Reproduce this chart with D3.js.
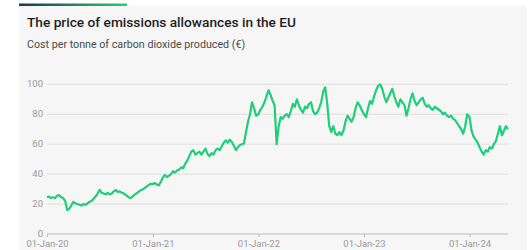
<!DOCTYPE html>
<html><head><meta charset="utf-8">
<script src="https://cdn.jsdelivr.net/npm/d3@7"></script>
<style>
html,body{margin:0;padding:0;background:#fff;}
svg{display:block;}
</style></head>
<body><svg id="c" width="529" height="250"></svg>
<script>
// Weekly EU ETS allowance prices (€ per tonne)
const prices2020 = [24.5,25,24,24.5, 24,25.5,26,24.5, 24,22,16,17, 19,21.5,20.5,20, 19.5,19,20,19.5, 20.5,21.5,22,23.5, 25,27,29.5,27.5, 27,26.5,27.5,26.5, 27,28.5,29.5,28, 28.5,27.5,27,26, 25,24,24.5,26, 27,28,29,29.5, 30.5,31.5,32.5,33.5];
const prices2021 = [33.5,34,33,32.5, 35,38,39.5,38, 39,40,42,41, 42.5,43,44.5,44, 47,49,52,55, 56,53,54,55, 53,55,57,53.5, 52,54,53,56, 57,56,58.5,61, 62.5,61,63,61.5, 59,56,58,59.5, 60,60.5,68,75, 80,88,84,79];
const prices2022 = [80,83,85,88, 92,96,93,89, 86,60,72,78, 77,79,80,78, 82,87,85,90, 86,83,81,85, 84,87,88,82, 80,81,84,88, 95,98,87,72, 68,72,67,66, 68,66,69,75, 79,77,75,78, 84,88,86,83];
const prices2023 = [80,78,84,89, 87,92,96,99, 100,97,92,88, 91,94,97,92, 88,85,90,88, 86,79,84,90, 94,89,86,88, 90,91,87,85, 86,84,83,85, 84,83,82,80, 81,79,78,79, 77,76,74,72, 70,67,72,80];
const prices2024 = [78,69,65,63, 61,58,55,53, 56,55,58,57, 60,62,67,72, 66,69,72,70];
const yearSeries = [[2020, prices2020],[2021, prices2021],[2022, prices2022],[2023, prices2023],[2024, prices2024]];
const yTicks = [0,20,40,60,80,100];
const xTickLabels = ["01-Jan-20","01-Jan-21","01-Jan-22","01-Jan-23","01-Jan-24"];
const title = "The price of emissions allowances in the EU";
const subtitle = "Cost per tonne of carbon dioxide produced (€)";

const data = [];
yearSeries.forEach(([yr, vals]) => {
  const start = new Date(yr, 0, 1);
  vals.forEach((v, i) => data.push({date: d3.timeDay.offset(start, 7*i), value: v}));
});

const FONT = "Roboto, 'Open Sans', sans-serif";
const svg = d3.select("#c");
// card
svg.append("rect").attr("x",19).attr("y",6).attr("width",508).attr("height",250).attr("fill","#f6f6f6");
const defs = svg.append("defs");
const g = defs.append("linearGradient").attr("id","bar").attr("x1","0").attr("x2","1");
g.append("stop").attr("offset","0").attr("stop-color","#1d3557");
g.append("stop").attr("offset","1").attr("stop-color","#2ecc71");
svg.append("rect").attr("x",19).attr("y",3.5).attr("width",108).attr("height",2.5).attr("fill","url(#bar)");

svg.append("text").attr("x",27).attr("y",27).text(title)
  .attr("font-family",FONT).attr("font-size",13.7).attr("font-weight",500).attr("fill","#1e1e1e");
svg.append("text").attr("x",27).attr("y",48).text(subtitle)
  .attr("font-family",FONT).attr("font-size",10.7).attr("fill","#4a4a4a");

const x = d3.scaleTime().domain([new Date(2020,0,1), data[data.length-1].date]).range([47,508]);
const y = d3.scaleLinear().domain([0,100]).range([234,84.3]);

// grid
const grid = svg.append("g");
grid.selectAll("line").data(yTicks).join("line")
  .attr("x1",47).attr("x2",508).attr("y1",d=>y(d)).attr("y2",d=>y(d))
  .attr("stroke", d=> d===0 ? "#d2d2d2" : "#dedede").attr("stroke-width", d=> d===0 ? 1.5 : 1);

const yAxis = d3.axisLeft(y).tickValues(yTicks).tickSize(0).tickPadding(4);
svg.append("g").attr("transform","translate(47,-1)").call(yAxis)
  .call(s=>s.select(".domain").remove())
  .call(s=>s.selectAll("text").attr("font-family",FONT).attr("font-size",9.5).attr("fill","#9a9a9a"));

const xDates = xTickLabels.map((_,i)=>new Date(2020+i,0,1));
const xAxis = d3.axisBottom(x).tickValues(xDates).tickSize(3).tickPadding(3).tickFormat((d,i)=>xTickLabels[i]);
svg.append("g").attr("transform","translate(0,234)").call(xAxis)
  .call(s=>s.select(".domain").remove())
  .call(s=>s.selectAll("line").attr("stroke","#b8b8b8"))
  .call(s=>s.selectAll("text").attr("font-family",FONT).attr("font-size",9.5).attr("fill","#9a9a9a"));

const line = d3.line().x(d=>x(d.date)).y(d=>y(d.value));
svg.append("path").datum(data).attr("d",line).attr("fill","none")
  .attr("stroke","#1fce78").attr("stroke-width",2.2).attr("stroke-linejoin","round");
</script></body></html>
